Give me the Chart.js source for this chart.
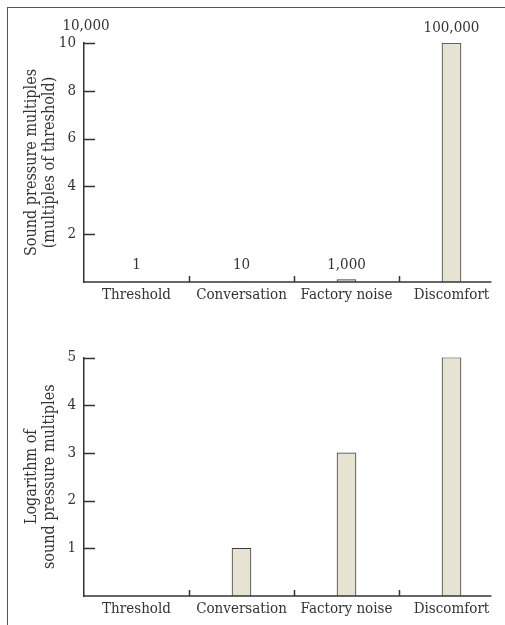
<!DOCTYPE html>
<html><head><meta charset="utf-8">
<script src="https://cdn.jsdelivr.net/npm/chart.js@4/dist/chart.umd.min.js"></script>
<style>
html,body{margin:0;padding:0;background:#fff;width:505px;height:625px;overflow:hidden;}
#frame{position:absolute;left:7px;top:7px;width:498px;height:618px;border-left:1.5px solid #555;border-top:1.5px solid #555;box-sizing:border-box;}
#c1{position:absolute;left:0;top:0;}
#c2{position:absolute;left:0;top:312px;}
</style></head><body>
<div id="frame"></div>
<canvas id="c1" width="505" height="315"></canvas>
<canvas id="c2" width="505" height="313"></canvas>
<script>
const categories = ['Threshold', 'Conversation', 'Factory noise', 'Discomfort'];
// top panel: sound pressure multiples in units of 10,000
const pressureValues = [0.0001, 0.001, 0.1, 10];
const pressureLabels = ['1', '10', '1,000', '100,000'];
const pressureUnit = '10,000';
const pressureTicks = [2, 4, 6, 8, 10];
// bottom panel: logarithm of multiples
const logValues = [0, 1, 3, 5];
const logTicks = [1, 2, 3, 4, 5];

function hasFont(name) {
  const c = document.createElement('canvas').getContext('2d');
  c.font = '20px monospace';
  const w0 = c.measureText('Threshold 10,000').width;
  c.font = "20px '" + name + "', monospace";
  return Math.abs(c.measureText('Threshold 10,000').width - w0) > 0.5;
}
const condensed = hasFont('DejaVu Serif Condensed');
const FONT = condensed
  ? {family: "'DejaVu Serif Condensed', serif", size: 15}
  : {family: "'Liberation Serif', 'Times New Roman', serif", size: 17};
const TITLE_SIZE = FONT.size + 1;
const INK = '#333333';

const decor = {
  id: 'decor',
  afterDatasetsDraw(chart, args, opts) {
    const {ctx, chartArea: a, scales: {x, y}} = chart;
    ctx.save();
    ctx.strokeStyle = INK; ctx.lineWidth = 1.5;
    y.ticks.forEach(t => {
      const py = Math.round(y.getPixelForValue(t.value)) + 0.5;
      ctx.beginPath(); ctx.moveTo(a.left, py); ctx.lineTo(a.left + 11, py); ctx.stroke();
    });
    const n = categories.length;
    const step = x.getPixelForValue(1) - x.getPixelForValue(0);
    const xEnd = x.getPixelForValue(n - 1) + step * 0.38;
    ctx.beginPath(); ctx.moveTo(a.left, a.bottom); ctx.lineTo(xEnd, a.bottom); ctx.stroke();
    for (let i = 1; i < n; i++) {
      const px = Math.round((x.getPixelForValue(i - 1) + x.getPixelForValue(i)) / 2) + 0.5;
      ctx.beginPath(); ctx.moveTo(px, a.bottom); ctx.lineTo(px, a.bottom - 6); ctx.stroke();
    }
    ctx.fillStyle = INK;
    ctx.font = FONT.size + 'px ' + FONT.family;
    ctx.textAlign = 'center'; ctx.textBaseline = 'middle';
    if (opts.labels) {
      chart.getDatasetMeta(0).data.forEach((bar, i) => {
        ctx.fillText(opts.labels[i], bar.x, Math.min(bar.y, a.bottom - 2) - 15);
      });
    }
    if (opts.unit) ctx.fillText(opts.unit, a.left + 2, y.getPixelForValue(y.max) - 17);
    ctx.restore();
  }
};

function makeChart(id, values, yMax, tickList, titleLines, padTop, xHeight, decorOpts) {
  return new Chart(document.getElementById(id), {
    type: 'bar',
    data: {labels: categories, datasets: [{data: values, backgroundColor: '#e6e3d3', borderColor: '#3c3c3c', borderWidth: 1, barThickness: 19}]},
    options: {
      responsive: false, animation: false,
      layout: {padding: {top: padTop, right: 1, left: 0, bottom: 0}},
      plugins: {legend: {display: false}, tooltip: {enabled: false}, decor: decorOpts},
      scales: {
        x: {
          grid: {display: false, drawTicks: false}, border: {display: false},
          ticks: {font: FONT, color: INK, padding: 4, maxRotation: 0, autoSkip: false},
          afterFit: s => { s.height = xHeight; }
        },
        y: {
          min: 0, max: yMax,
          afterBuildTicks: s => { s.ticks = tickList.map(v => ({value: v})); },
          grid: {display: false, drawTicks: false},
          border: {display: true, color: INK, width: 1.5},
          ticks: {font: FONT, color: INK, padding: 8},
          title: {display: true, text: titleLines, font: {family: FONT.family, size: TITLE_SIZE, lineHeight: 18 / TITLE_SIZE}, color: INK, padding: {top: 23, bottom: 0}},
          afterFit: s => { s.width = 84; }
        }
      }
    },
    plugins: [decor]
  });
}

makeChart('c1', pressureValues, 10, pressureTicks, ['Sound pressure multiples', '(multiples of threshold)'], 43, 33, {labels: pressureLabels, unit: pressureUnit});
makeChart('c2', logValues, 5, logTicks, ['Logarithm of', 'sound pressure multiples'], 45.5, 29, {});
</script>
</body></html>
